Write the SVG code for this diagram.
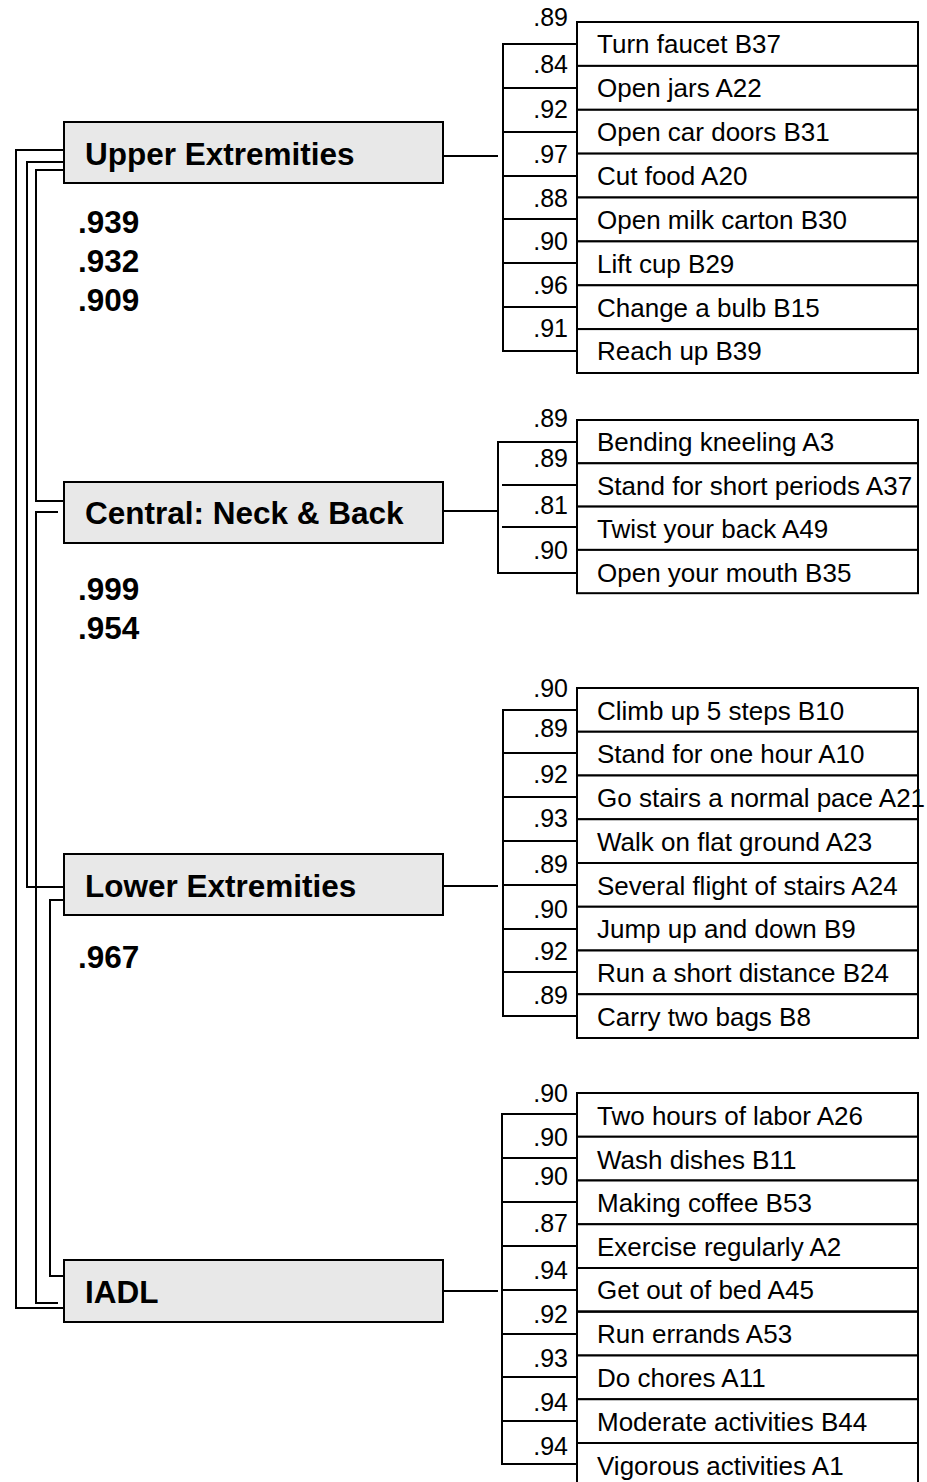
<svg xmlns="http://www.w3.org/2000/svg" width="927" height="1482" viewBox="0 0 927 1482">
<style>
.f{fill:#e8e8e8;stroke:#000;stroke-width:2}
.it{fill:#fff;stroke:#000;stroke-width:2}
.c{fill:none;stroke:#000;stroke-width:2}
.lb{font-family:"Liberation Sans",Arial,sans-serif;font-weight:bold;font-size:31.5px;fill:#000}
.tx{font-family:"Liberation Sans",Arial,sans-serif;font-size:26px;fill:#000}
.n{font-family:"Liberation Sans",Arial,sans-serif;font-size:25px;fill:#000;text-anchor:end}
</style>
<rect width="927" height="1482" fill="#fff"/>
<g id="connectors">
<path class="c" d="M64,150 H16 V1308 H64"/>
<path class="c" d="M64,162 H27 V887 H64"/>
<path class="c" d="M64,170 H36 V501 H64"/>
<path class="c" d="M58,512 H36 V1303 H58"/>
<path class="c" d="M64,900 H50 V1276 H64"/>
<path class="c" d="M443,156 H498"/>
<path class="c" d="M577,44 H503 V351 H577 M503,88 H577 M503,132 H577 M503,176 H577 M503,219 H577 M503,263 H577 M503,307 H577"/>
<path class="c" d="M443,511 H498"/>
<path class="c" d="M577,442 H498 V573 H577 M502,485 H577 M502,527 H577"/>
<path class="c" d="M443,886 H498"/>
<path class="c" d="M577,710 H503 V1016 H577 M503,753 H577 M503,797 H577 M503,841 H577 M503,885 H577 M503,929 H577 M503,972 H577"/>
<path class="c" d="M443,1291 H498"/>
<path class="c" d="M577,1114 H502 V1464 H577 M502,1158 H577 M502,1202 H577 M502,1246 H577 M502,1290 H577 M502,1334 H577 M502,1377 H577 M502,1421 H577"/>
</g>
<g id="upper">
<rect class="f" x="64" y="122" width="379" height="61"/>
<text class="lb" x="85" y="165">Upper Extremities</text>
<text class="lb" x="78" y="233">.939</text>
<text class="lb" x="78" y="272">.932</text>
<text class="lb" x="78" y="311">.909</text>
</g>
<g id="central">
<rect class="f" x="64" y="482" width="379" height="61"/>
<text class="lb" x="85" y="524">Central: Neck &amp; Back</text>
<text class="lb" x="78" y="600">.999</text>
<text class="lb" x="78" y="639">.954</text>
</g>
<g id="lower">
<rect class="f" x="64" y="854" width="379" height="61"/>
<text class="lb" x="85" y="897">Lower Extremities</text>
<text class="lb" x="78" y="968">.967</text>
</g>
<g id="iadl">
<rect class="f" x="64" y="1260" width="379" height="62"/>
<text class="lb" x="85" y="1303">IADL</text>
</g>
<g id="upper-items">
<rect class="it" x="577" y="22" width="341" height="43.9"/>
<rect class="it" x="577" y="65.9" width="341" height="43.9"/>
<rect class="it" x="577" y="109.8" width="341" height="43.9"/>
<rect class="it" x="577" y="153.6" width="341" height="43.9"/>
<rect class="it" x="577" y="197.5" width="341" height="43.9"/>
<rect class="it" x="577" y="241.4" width="341" height="43.9"/>
<rect class="it" x="577" y="285.3" width="341" height="43.9"/>
<rect class="it" x="577" y="329.1" width="341" height="43.9"/>
<text class="tx" x="597" y="53">Turn faucet B37</text>
<text class="tx" x="597" y="97">Open jars A22</text>
<text class="tx" x="597" y="141">Open car doors B31</text>
<text class="tx" x="597" y="185">Cut food A20</text>
<text class="tx" x="597" y="229">Open milk carton B30</text>
<text class="tx" x="597" y="273">Lift cup B29</text>
<text class="tx" x="597" y="317">Change a bulb B15</text>
<text class="tx" x="597" y="360">Reach up B39</text>
<text class="n" x="568" y="26">.89</text>
<text class="n" x="568" y="73">.84</text>
<text class="n" x="568" y="118">.92</text>
<text class="n" x="568" y="163">.97</text>
<text class="n" x="568" y="207">.88</text>
<text class="n" x="568" y="250">.90</text>
<text class="n" x="568" y="294">.96</text>
<text class="n" x="568" y="337">.91</text>
</g>
<g id="central-items">
<rect class="it" x="577" y="420" width="341" height="43.3"/>
<rect class="it" x="577" y="463.3" width="341" height="43.3"/>
<rect class="it" x="577" y="506.6" width="341" height="43.3"/>
<rect class="it" x="577" y="549.9" width="341" height="43.3"/>
<text class="tx" x="597" y="451">Bending kneeling A3</text>
<text class="tx" x="597" y="495">Stand for short periods A37</text>
<text class="tx" x="597" y="538">Twist your back A49</text>
<text class="tx" x="597" y="582">Open your mouth B35</text>
<text class="n" x="568" y="427">.89</text>
<text class="n" x="568" y="467">.89</text>
<text class="n" x="568" y="514">.81</text>
<text class="n" x="568" y="559">.90</text>
</g>
<g id="lower-items">
<rect class="it" x="577" y="688" width="341" height="43.75"/>
<rect class="it" x="577" y="731.75" width="341" height="43.75"/>
<rect class="it" x="577" y="775.5" width="341" height="43.75"/>
<rect class="it" x="577" y="819.25" width="341" height="43.75"/>
<rect class="it" x="577" y="863" width="341" height="43.75"/>
<rect class="it" x="577" y="906.75" width="341" height="43.75"/>
<rect class="it" x="577" y="950.5" width="341" height="43.75"/>
<rect class="it" x="577" y="994.25" width="341" height="43.75"/>
<text class="tx" x="597" y="720">Climb up 5 steps B10</text>
<text class="tx" x="597" y="763">Stand for one hour A10</text>
<text class="tx" x="597" y="807">Go stairs a normal pace A21</text>
<text class="tx" x="597" y="851">Walk on flat ground A23</text>
<text class="tx" x="597" y="895">Several flight of stairs A24</text>
<text class="tx" x="597" y="938">Jump up and down B9</text>
<text class="tx" x="597" y="982">Run a short distance B24</text>
<text class="tx" x="597" y="1026">Carry two bags B8</text>
<text class="n" x="568" y="697">.90</text>
<text class="n" x="568" y="737">.89</text>
<text class="n" x="568" y="783">.92</text>
<text class="n" x="568" y="827">.93</text>
<text class="n" x="568" y="873">.89</text>
<text class="n" x="568" y="918">.90</text>
<text class="n" x="568" y="960">.92</text>
<text class="n" x="568" y="1004">.89</text>
</g>
<g id="iadl-items">
<rect class="it" x="577" y="1093" width="341" height="43.75"/>
<rect class="it" x="577" y="1136.75" width="341" height="43.75"/>
<rect class="it" x="577" y="1180.5" width="341" height="43.75"/>
<rect class="it" x="577" y="1224.25" width="341" height="43.75"/>
<rect class="it" x="577" y="1268" width="341" height="43.75"/>
<rect class="it" x="577" y="1311.75" width="341" height="43.75"/>
<rect class="it" x="577" y="1355.5" width="341" height="43.75"/>
<rect class="it" x="577" y="1399.25" width="341" height="43.75"/>
<rect class="it" x="577" y="1443" width="341" height="43.75"/>
<path class="c" d="M577,1311.5 H918" stroke-width="3"/>
<text class="tx" x="597" y="1125">Two hours of labor A26</text>
<text class="tx" x="597" y="1169">Wash dishes B11</text>
<text class="tx" x="597" y="1212">Making coffee B53</text>
<text class="tx" x="597" y="1256">Exercise regularly A2</text>
<text class="tx" x="597" y="1299">Get out of bed A45</text>
<text class="tx" x="597" y="1343">Run errands A53</text>
<text class="tx" x="597" y="1387">Do chores A11</text>
<text class="tx" x="597" y="1431">Moderate activities B44</text>
<text class="tx" x="597" y="1475">Vigorous activities A1</text>
<text class="n" x="568" y="1102">.90</text>
<text class="n" x="568" y="1146">.90</text>
<text class="n" x="568" y="1185">.90</text>
<text class="n" x="568" y="1232">.87</text>
<text class="n" x="568" y="1279">.94</text>
<text class="n" x="568" y="1323">.92</text>
<text class="n" x="568" y="1367">.93</text>
<text class="n" x="568" y="1411">.94</text>
<text class="n" x="568" y="1455">.94</text>
</g>
</svg>
